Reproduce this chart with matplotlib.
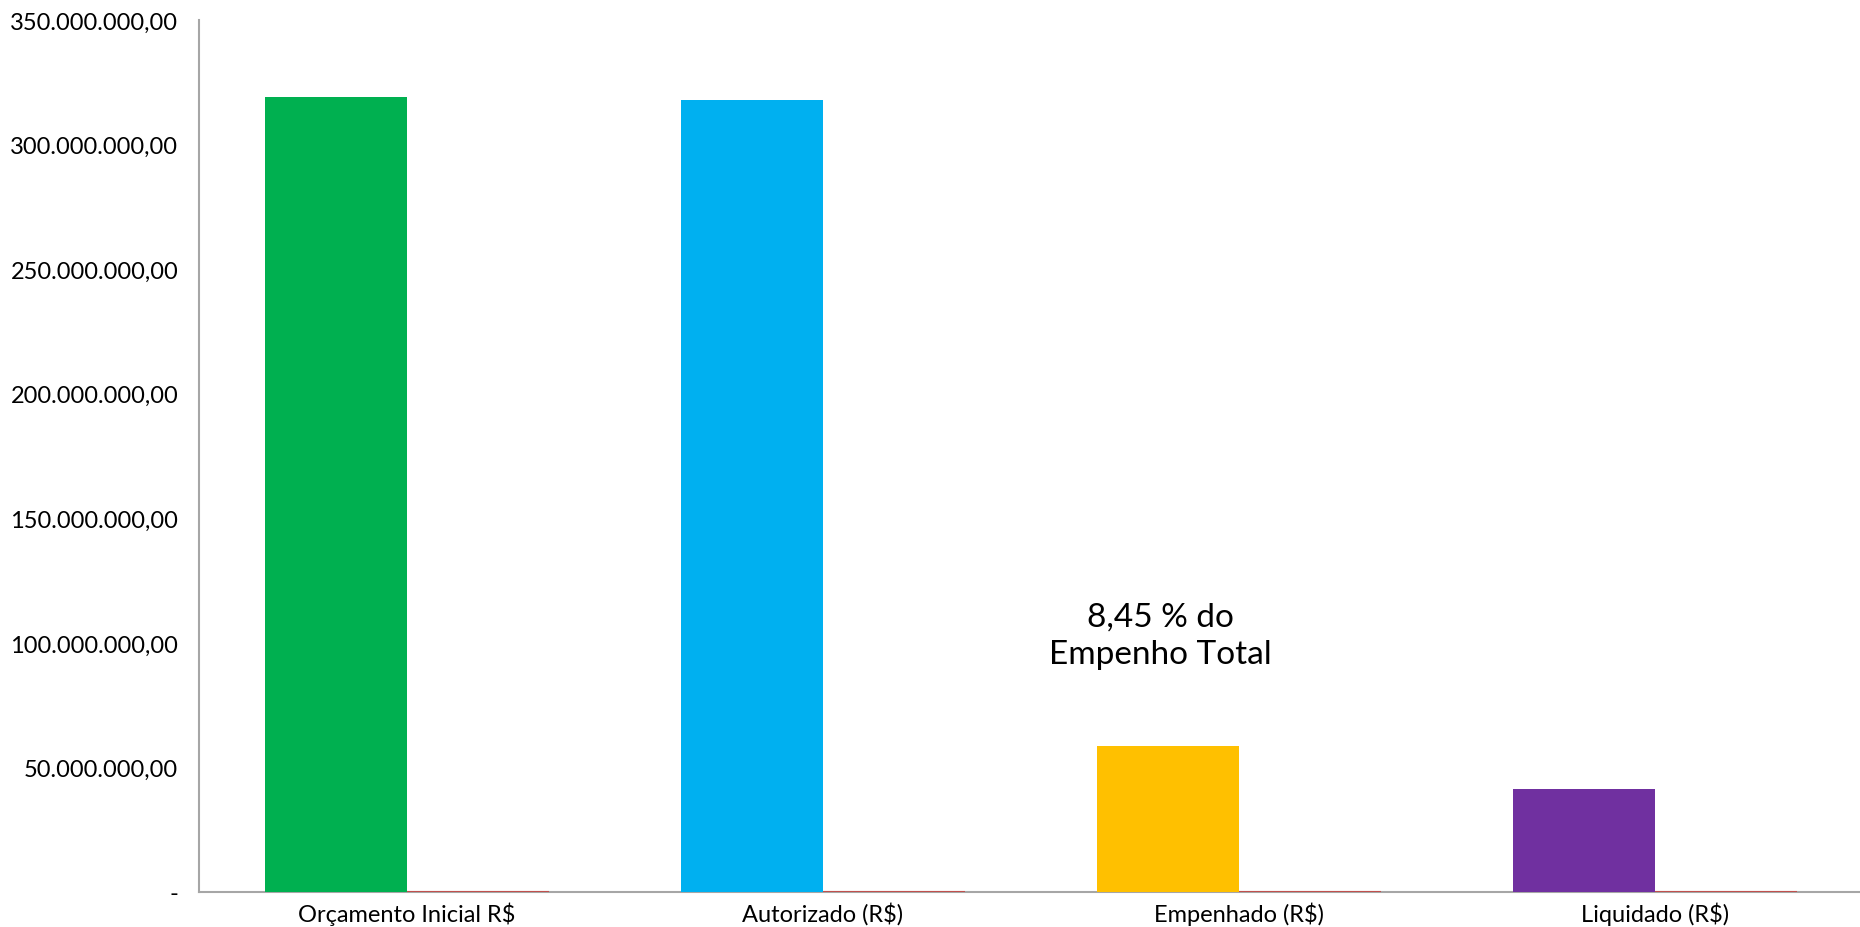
import numpy as np
import matplotlib.pyplot as plt

categorias = ['Orçamento Inicial R$', 'Autorizado (R$)', 'Empenhado (R$)', 'Liquidado (R$)']
valores = [319_000_000, 318_000_000, 58_700_000, 41_300_000]
percentuais = [100.0, 99.6, 8.45, 5.95]   # second series, practically flat on this scale
cores = ['#00B050', '#00B0F0', '#FFC000', '#7030A0']
yticks = np.arange(0, 350_000_001, 50_000_000)
nota = '8,45 % do\nEmpenho Total'

plt.rcParams['font.family'] = ['Lato', 'DejaVu Sans']


def fmt_br(v):
    if v == 0:
        return '-'
    s = f'{v:,.2f}'
    return s.replace(',', 'X').replace('.', ',').replace('X', '.')


fig = plt.figure(figsize=(18.6, 9.28), dpi=100)
ax = fig.add_axes([199 / 1860, 35 / 928, 1664 / 1860, 872 / 928])

x = np.arange(len(categorias))
w = 0.341
ax.bar(x - w / 2, valores, width=w, color=cores, zorder=2)
ax.bar(x + w / 2, percentuais, width=w, color='#C0504D',
       edgecolor='#C0504D', linewidth=1.5, zorder=3)

ax.set_xlim(-0.5, 3.5)
ax.set_ylim(0, 350_000_000)
ax.set_yticks(yticks)
ax.set_yticklabels([fmt_br(v) for v in yticks], fontsize=17)
ax.set_xticks(x)
ax.set_xticklabels(categorias, fontsize=17)
ax.tick_params(axis='y', length=0, pad=15)
ax.tick_params(axis='x', length=0, pad=7)

for s in ['top', 'right']:
    ax.spines[s].set_visible(False)
for s in ['left', 'bottom']:
    ax.spines[s].set_color('#A6A6A6')
    ax.spines[s].set_linewidth(1.5)
ax.spines['bottom'].set_zorder(1)

ax.text(1.81, 103_000_000, nota, ha='center', va='center', fontsize=24,
        linespacing=1.3)

fig.savefig('out.png', dpi=100)
